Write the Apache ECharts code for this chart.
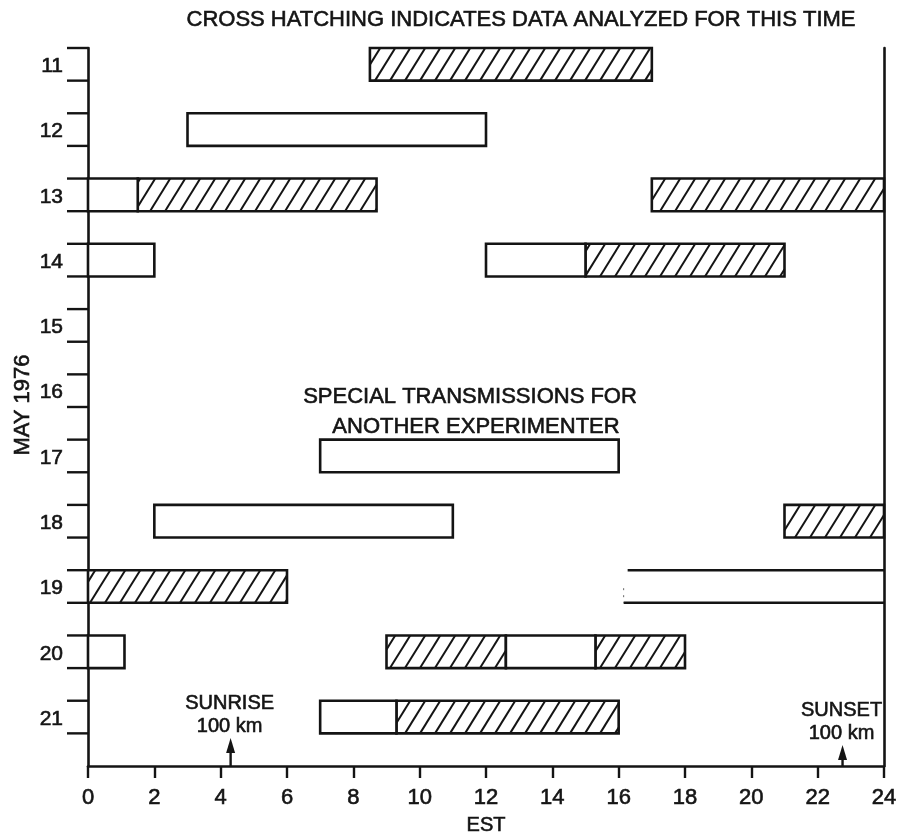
<!DOCTYPE html>
<html>
<head>
<meta charset="utf-8">
<script src="https://cdn.jsdelivr.net/npm/echarts@6/dist/echarts.min.js"></script>
<style>html,body{margin:0;padding:0;background:#fff}#chart{width:900px;height:837px}</style>
</head>
<body>
<div id="chart"></div>
<script>
// ---- data ----
const days = [11, 12, 13, 14, 15, 16, 17, 18, 19, 20, 21];
const xTicks = [0, 2, 4, 6, 8, 10, 12, 14, 16, 18, 20, 22, 24];
// [day, start hour EST, end hour EST]
const hatchedSegments = [
  [11, 8.5, 17], [13, 1.5, 8.7], [13, 17, 24], [14, 15, 21], [18, 21, 24],
  [19, 0, 6], [20, 9, 12.6], [20, 15.3, 18], [21, 9.3, 16]
];
const openSegments = [
  [12, 3, 12], [13, 0, 1.5], [14, 0, 2], [14, 12, 15], [17, 7, 16],
  [18, 2, 11], [20, 0, 1.1], [20, 12.6, 15.3], [21, 7, 9.3]
];
const openEndedSegments = [[19, 16.15, 24]];
const sunEvents = [['SUNRISE', 4.3], ['SUNSET', 22.75]];
const titleText = 'CROSS HATCHING INDICATES DATA ANALYZED FOR THIS TIME';
const noteLines = ['SPECIAL TRANSMISSIONS FOR', 'ANOTHER EXPERIMENTER'];

// ---- styles ----
const INK = '#141414';
const FONT = '"Liberation Sans", Arial, sans-serif';
const TXT = { textBorderColor: INK, textBorderWidth: 0.6 };   // option-level text outline
const ZTXT = { stroke: INK, lineWidth: 0.6 };                   // zrender-level text outline
const HALF = 0.25;       // half bar height in day units
const HATCH_GAP = 15;    // px
const HATCH_T = 0.62;    // dx per dy of hatch lines
const arrowLen = { SUNRISE: 28, SUNSET: 21 };

function barRect(api) {
  const row = api.value(0), s = api.value(1), e = api.value(2);
  const a = api.coord([s, row - HALF]);
  const b = api.coord([e, row + HALF]);
  return { x0: Math.min(a[0], b[0]), x1: Math.max(a[0], b[0]), y0: Math.min(a[1], b[1]), y1: Math.max(a[1], b[1]) };
}

function renderHatched(params, api) {
  const r = barRect(api);
  const h = r.y1 - r.y0;
  const children = [{
    type: 'rect', shape: { x: r.x0, y: r.y0, width: r.x1 - r.x0, height: h },
    style: { fill: '#fff', stroke: null }
  }];
  const kStart = Math.floor((r.x0 - h * HATCH_T) / HATCH_GAP) - 1;
  const kEnd = Math.ceil(r.x1 / HATCH_GAP) + 1;
  for (let k = kStart; k <= kEnd; k++) {
    const xb = k * HATCH_GAP;
    const dx = h * HATCH_T;
    let p0 = Math.max(0, (r.x0 - xb) / dx);
    let p1 = Math.min(1, (r.x1 - xb) / dx);
    if (p1 - p0 <= 0.001) continue;
    children.push({
      type: 'line',
      shape: { x1: xb + p0 * dx, y1: r.y1 - p0 * h, x2: xb + p1 * dx, y2: r.y1 - p1 * h },
      style: { stroke: INK, lineWidth: 2 }
    });
  }
  children.push({
    type: 'rect', shape: { x: r.x0, y: r.y0, width: r.x1 - r.x0, height: h },
    style: { fill: null, stroke: INK, lineWidth: 2.6 }
  });
  return { type: 'group', children };
}

function renderOpen(params, api) {
  const r = barRect(api);
  return {
    type: 'rect', shape: { x: r.x0, y: r.y0, width: r.x1 - r.x0, height: r.y1 - r.y0 },
    style: { fill: '#fff', stroke: INK, lineWidth: 2.6 }
  };
}

function renderOpenEnded(params, api) {
  const r = barRect(api);
  return {
    type: 'group', children: [
      { type: 'line', shape: { x1: r.x0 + 4, y1: r.y0, x2: r.x1, y2: r.y0 }, style: { stroke: INK, lineWidth: 2.6 } },
      { type: 'line', shape: { x1: r.x0, y1: r.y1, x2: r.x1, y2: r.y1 }, style: { stroke: INK, lineWidth: 2.6 } },
      { type: 'line', shape: { x1: r.x0, y1: r.y0 + 18, x2: r.x0, y2: r.y1 }, style: { stroke: '#666', lineWidth: 1, lineDash: [2, 5] } }
    ]
  };
}

function renderDayTicks(params, api) {
  const row = api.value(0);
  const top = api.coord([0, row - HALF]);
  const bot = api.coord([0, row + HALF]);
  const mid = api.coord([0, row]);
  return {
    type: 'group', children: [
      { type: 'line', shape: { x1: top[0] - 21, y1: top[1], x2: top[0], y2: top[1] }, style: { stroke: INK, lineWidth: 2.4 } },
      { type: 'line', shape: { x1: bot[0] - 21, y1: bot[1], x2: bot[0], y2: bot[1] }, style: { stroke: INK, lineWidth: 2.4 } },
      { type: 'text', x: mid[0] - 25, y: mid[1] + 2,
        style: Object.assign({ text: String(row), fill: INK, font: '21px ' + FONT, textAlign: 'right', textVerticalAlign: 'middle' }, ZTXT) }
    ]
  };
}

function renderSun(params, api) {
  const name = sunEvents[params.dataIndex][0];
  const base = api.coord([api.value(1), 21.75]);
  const x = base[0], y = base[1];
  const L = arrowLen[name];
  const top = y - L;
  return {
    type: 'group', children: [
      { type: 'line', shape: { x1: x, y1: y, x2: x, y2: top + 10 }, style: { stroke: INK, lineWidth: 2.4 } },
      { type: 'polygon', shape: { points: [[x, top], [x - 4.5, top + 15], [x + 4.5, top + 15]] }, style: { fill: INK } },
      { type: 'text', x: x - 1, y: top - 35,
        style: Object.assign({ text: name, fill: INK, font: '20px ' + FONT, textAlign: 'center', textVerticalAlign: 'middle' }, ZTXT) },
      { type: 'text', x: x - 1, y: top - 12,
        style: Object.assign({ text: '100 km', fill: INK, font: '20px ' + FONT, textAlign: 'center', textVerticalAlign: 'middle' }, ZTXT) }
    ]
  };
}

const chart = echarts.init(document.getElementById('chart'));
const axisLine = { show: true, onZero: false, lineStyle: { color: INK, width: 2.6 } };
chart.setOption({
  backgroundColor: '#fff',
  animation: false,
  grid: { left: 88, right: 16, top: 48, bottom: 71, containLabel: false, outerBoundsMode: 'none' },
  xAxis: {
    type: 'value', min: xTicks[0], max: xTicks[xTicks.length - 1], interval: xTicks[1] - xTicks[0],
    axisLine: axisLine,
    axisTick: { show: true, length: 12, lineStyle: { color: INK, width: 2.4 } },
    axisLabel: Object.assign({ fontSize: 22, color: INK, fontFamily: FONT, margin: 21 }, TXT),
    splitLine: { show: false },
    name: 'EST', nameLocation: 'middle', nameGap: 49,
    nameTextStyle: Object.assign({ fontSize: 20, color: INK, fontFamily: FONT }, TXT)
  },
  yAxis: [
    { type: 'value', inverse: true, min: days[0] - 0.25, max: days[days.length - 1] + 0.75,
      axisLine: axisLine, axisTick: { show: false }, axisLabel: { show: false }, splitLine: { show: false } },
    { type: 'value', inverse: true, position: 'right', min: days[0] - 0.25, max: days[days.length - 1] + 0.75,
      axisLine: axisLine, axisTick: { show: false }, axisLabel: { show: false }, splitLine: { show: false } }
  ],
  graphic: [
    { type: 'text', x: 521, y: 20,
      style: Object.assign({ text: titleText, fill: INK, font: '22px ' + FONT, textAlign: 'center', textVerticalAlign: 'middle' }, ZTXT) },
    { type: 'text', x: 470, y: 397,
      style: Object.assign({ text: noteLines[0], fill: INK, font: '22px ' + FONT, textAlign: 'center', textVerticalAlign: 'middle' }, ZTXT) },
    { type: 'text', x: 476, y: 427,
      style: Object.assign({ text: noteLines[1], fill: INK, font: '22px ' + FONT, textAlign: 'center', textVerticalAlign: 'middle' }, ZTXT) },
    { type: 'text', x: 23, y: 405, rotation: Math.PI / 2,
      style: Object.assign({ text: 'MAY 1976', fill: INK, font: '22px ' + FONT, textAlign: 'center', textVerticalAlign: 'middle' }, ZTXT) }
  ],
  series: [
    { type: 'custom', name: 'hatched', clip: false, renderItem: renderHatched, data: hatchedSegments },
    { type: 'custom', name: 'open', clip: false, renderItem: renderOpen, data: openSegments },
    { type: 'custom', name: 'openEnded', clip: false, renderItem: renderOpenEnded, data: openEndedSegments },
    { type: 'custom', name: 'days', clip: false, renderItem: renderDayTicks, data: days.map(d => [d]) },
    { type: 'custom', name: 'sun', clip: false, renderItem: renderSun, data: sunEvents.map(s => [s[0], s[1]]),
      encode: { x: 1 } }
  ]
});
</script>
</body>
</html>
